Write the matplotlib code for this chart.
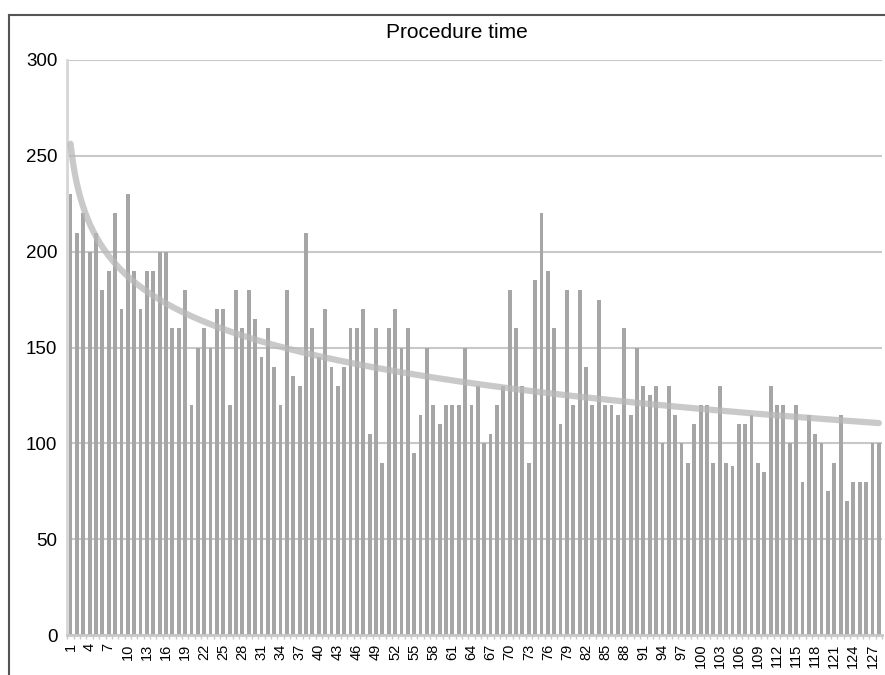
import numpy as np
import matplotlib
matplotlib.use("Agg")
import matplotlib.pyplot as plt
from matplotlib.lines import Line2D

plt.rcParams["font.family"] = ["Liberation Sans", "DejaVu Sans"]

title = "Procedure time"
cases = list(range(1, 129))
times = [230, 210, 220, 200, 210, 180, 190, 220, 170, 230,
         190, 170, 190, 190, 200, 200, 160, 160, 180, 120,
         150, 160, 150, 170, 170, 120, 180, 160, 180, 165,
         145, 160, 140, 120, 180, 135, 130, 210, 160, 145,
         170, 140, 130, 140, 160, 160, 170, 105, 160, 90,
         160, 170, 150, 160, 95, 115, 150, 120, 110, 120,
         120, 120, 150, 120, 130, 100, 105, 120, 130, 180,
         160, 130, 90, 185, 220, 190, 160, 110, 180, 120,
         180, 140, 120, 175, 120, 120, 115, 160, 115, 150,
         130, 125, 130, 100, 130, 115, 100, 90, 110, 120,
         120, 90, 130, 90, 88, 110, 110, 115, 90, 85,
         130, 120, 120, 100, 120, 80, 115, 105, 100, 75,
         90, 115, 70, 80, 80, 80, 100, 100]
yticks = [0, 50, 100, 150, 200, 250, 300]

W, H = 885, 675
fig = plt.figure(figsize=(W / 100, H / 100), dpi=100)
ax = fig.add_axes([67 / W, 1 - 635 / H, (882 - 67) / W, (635 - 60) / H])

x = np.array(cases, dtype=float)
y = np.array(times, dtype=float)

ax.bar(x, y, width=0.6, color="#a6a6a6", zorder=2)

# logarithmic trendline (least squares on ln x)
b, a = np.polyfit(np.log(x), y, 1)
xt = np.linspace(1, 128, 400)
ax.plot(xt, a + b * np.log(xt), color="#b8b8b8", lw=4.5, alpha=0.75,
        solid_capstyle="round", zorder=3)

ax.set_xlim(0.45, 128.45)
ax.set_ylim(0, 300)
ax.set_yticks(yticks)
ax.set_yticklabels([str(v) for v in yticks], fontsize=13.5)
ax.grid(axis="y", color="#c8c8c8", lw=1.5, zorder=0)
ax.set_axisbelow(True)

ax.set_xticks(cases[::3])
ax.set_xticklabels([str(c) for c in cases[::3]], rotation=90, fontsize=10.5)
ax.set_xticks(np.arange(0.5, 129, 1), minor=True)
ax.tick_params(axis="x", which="major", length=0, pad=6)
ax.tick_params(axis="x", which="minor", length=3, color="#c8c8c8", width=1)
ax.tick_params(axis="y", length=0, pad=7)

for s in ["top", "right"]:
    ax.spines[s].set_visible(False)
ax.spines["left"].set_color("#d6d6d6")
ax.spines["left"].set_linewidth(2)
ax.spines["bottom"].set_color("#c8c8c8")
ax.spines["bottom"].set_linewidth(2)

fig.text(457 / W, 1 - 33 / H, title, ha="center", va="center", fontsize=15)

# outer frame (cropped on right and bottom)
fig.add_artist(Line2D([9 / W, 1], [1 - 15 / H, 1 - 15 / H], color="#555555", lw=1.5,
                      transform=fig.transFigure))
fig.add_artist(Line2D([9 / W, 9 / W], [0, 1 - 15 / H], color="#555555", lw=1.5,
                      transform=fig.transFigure))

fig.savefig("out.png", dpi=100, facecolor="white")
